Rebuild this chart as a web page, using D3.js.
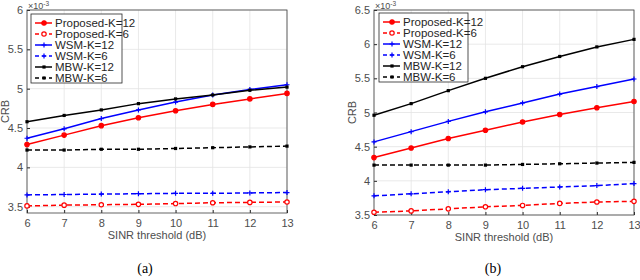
<!DOCTYPE html>
<html>
<head>
<meta charset="utf-8">
<script src="https://cdn.jsdelivr.net/npm/d3@7"></script>
<style>
  body { margin: 0; background: #fff; }
  svg { display: block; font-family: "Liberation Sans", Arial, sans-serif; }
  .cap { font-family: "Liberation Serif", "Times New Roman", serif; font-size: 14px; }
</style>
</head>
<body>
<svg id="chart" width="640" height="280"></svg>
<script>
const SNR = [6, 7, 8, 9, 10, 11, 12, 13]

const SERIES_NAMES = ["Proposed-K=12", "Proposed-K=6", "WSM-K=12", "WSM-K=6", "MBW-K=12", "MBW-K=6"]

// panel (a), CRB values in units of 1e-3
const A_PROP12 = [4.29, 4.41, 4.53, 4.63, 4.72, 4.80, 4.87, 4.94]
const A_PROP6  = [3.51, 3.52, 3.525, 3.53, 3.54, 3.55, 3.555, 3.56]
const A_WSM12  = [4.37, 4.49, 4.62, 4.73, 4.83, 4.92, 4.99, 5.05]
const A_WSM6   = [3.65, 3.655, 3.66, 3.665, 3.67, 3.67, 3.675, 3.68]
const A_MBW12  = [4.58, 4.66, 4.73, 4.81, 4.87, 4.92, 4.98, 5.02]
const A_MBW6   = [4.22, 4.22, 4.23, 4.23, 4.24, 4.25, 4.26, 4.27]

// panel (b)
const B_PROP12 = [4.34, 4.48, 4.62, 4.74, 4.86, 4.97, 5.07, 5.16]
const B_PROP6  = [3.54, 3.56, 3.59, 3.62, 3.64, 3.67, 3.69, 3.70]
const B_WSM12  = [4.57, 4.72, 4.87, 5.01, 5.14, 5.27, 5.38, 5.49]
const B_WSM6   = [3.78, 3.81, 3.84, 3.87, 3.89, 3.91, 3.93, 3.96]
const B_MBW12  = [4.96, 5.13, 5.32, 5.50, 5.67, 5.82, 5.96, 6.07]
const B_MBW6   = [4.23, 4.23, 4.23, 4.23, 4.24, 4.25, 4.26, 4.27]

const A_YTICKS = [3.5, 4, 4.5, 5, 5.5, 6]
const B_YTICKS = [3.5, 4, 4.5, 5, 5.5, 6, 6.5]

const STYLES = [
    {color: "#ff0000", dash: null,  marker: "circle", fill: true},
    {color: "#ff0000", dash: "5,3", marker: "circle", fill: false},
    {color: "#0000ff", dash: null,  marker: "plus"},
    {color: "#0000ff", dash: "5,3", marker: "plus"},
    {color: "#000000", dash: null,  marker: "square"},
    {color: "#000000", dash: "5,3", marker: "square"}
]

const svg = d3.select("#chart")

function drawMarker(g, style, x, y) {
    if (style.marker === "circle") {
        g.append("circle").attr("cx", x).attr("cy", y).attr("r", 2.2)
            .attr("fill", style.fill ? style.color : "#fff")
            .attr("stroke", style.color).attr("stroke-width", 1.2)
    } else if (style.marker === "plus") {
        g.append("path").attr("d", `M${x-2.5},${y}H${x+2.5}M${x},${y-2.5}V${y+2.5}`)
            .attr("stroke", style.color).attr("stroke-width", 1.2)
    } else {
        g.append("rect").attr("x", x-1.6).attr("y", y-1.6).attr("width", 3.2).attr("height", 3.2)
            .attr("fill", style.color)
    }
}

function drawPanel(opts) {
    let {x0, x1, y0, y1, ydomain, yticks, data, legend, caption} = opts
    let x = d3.scaleLinear().domain([6, 13]).range([x0, x1])
    let y = d3.scaleLinear().domain(ydomain).range([y1, y0])

    let g = svg.append("g")

    // grid
    g.append("g").selectAll("line").data(SNR).join("line")
        .attr("x1", d => x(d)).attr("x2", d => x(d)).attr("y1", y0).attr("y2", y1)
        .attr("stroke", "#e3e3e3").attr("stroke-width", 0.8)
    g.append("g").selectAll("line").data(yticks).join("line")
        .attr("x1", x0).attr("x2", x1).attr("y1", d => y(d)).attr("y2", d => y(d))
        .attr("stroke", "#e3e3e3").attr("stroke-width", 0.8)

    // axes
    let xa = g.append("g").attr("transform", `translate(0,${y1})`)
        .call(d3.axisBottom(x).tickValues(SNR).tickSize(-3).tickPadding(6).tickFormat(d3.format("d")))
    let ya = g.append("g").attr("transform", `translate(${x0},0)`)
        .call(d3.axisLeft(y).tickValues(yticks).tickSize(-3).tickPadding(4).tickFormat(d => d))
    ;[xa, ya].forEach(a => {
        a.select(".domain").remove()
        a.selectAll("line").attr("stroke", "#262626")
        a.selectAll("text").attr("fill", "#4d4d4d").style("font-size", "11px").style("font-family", "'Liberation Sans', Arial, sans-serif")
    })

    g.append("rect").attr("x", x0).attr("y", y0).attr("width", x1 - x0).attr("height", y1 - y0)
        .attr("fill", "none").attr("stroke", "#404040").attr("stroke-width", 0.8)

    // series
    let line = d3.line().x((d, i) => x(SNR[i])).y(d => y(d))
    data.forEach((vals, k) => {
        let s = STYLES[k]
        g.append("path").datum(vals).attr("d", line)
            .attr("fill", "none").attr("stroke", s.color).attr("stroke-width", 1.5)
            .attr("stroke-dasharray", s.dash)
        let mg = g.append("g")
        vals.forEach((v, i) => drawMarker(mg, s, x(SNR[i]), y(v)))
    })

    // exponent
    let ex = g.append("text").attr("x", x0 + 1).attr("y", 9)
        .attr("fill", "#4d4d4d").style("font-size", "9px")
    ex.append("tspan").text("\u00d710")
    ex.append("tspan").attr("dy", -3).style("font-size", "6.5px").text("-3")

    // axis labels
    g.append("text").attr("x", (x0 + x1) / 2).attr("y", y1 + 26).attr("text-anchor", "middle")
        .attr("fill", "#4d4d4d").style("font-size", "11px").text("SINR threshold (dB)")
    g.append("text").attr("transform", `translate(${x0 - 18},${(y0 + y1) / 2}) rotate(-90)`)
        .attr("text-anchor", "middle").attr("fill", "#4d4d4d").style("font-size", "11px").text("CRB")

    // legend
    let lg = g.append("g").attr("transform", `translate(${legend[0]},${legend[1]})`)
    lg.append("rect").attr("width", legend[2]).attr("height", 69)
        .attr("fill", "#fff").attr("stroke", "#262626").attr("stroke-width", 0.8)
    SERIES_NAMES.forEach((name, k) => {
        let s = STYLES[k], ly = 9 + k * 11
        lg.append("line").attr("x1", 4).attr("x2", 21).attr("y1", ly).attr("y2", ly)
            .attr("stroke", s.color).attr("stroke-width", 1.5).attr("stroke-dasharray", s.dash ? "4,3" : null)
        drawMarker(lg, s, 13, ly)
        lg.append("text").attr("x", 24).attr("y", ly + 4).attr("fill", "#262626")
            .style("font-size", "11.5px").text(name)
    })

    svg.append("text").attr("class", "cap").attr("x", caption[0]).attr("y", caption[1])
        .attr("text-anchor", "middle").attr("fill", "#000").text(caption[2])
}

drawPanel({x0: 27, x1: 287, y0: 10, y1: 213, ydomain: [3.42, 6], yticks: A_YTICKS,
    data: [A_PROP12, A_PROP6, A_WSM12, A_WSM6, A_MBW12, A_MBW6],
    legend: [31, 14, 91], caption: [145, 273, "(a)"]})

drawPanel({x0: 374, x1: 634, y0: 10, y1: 215, ydomain: [3.5, 6.5], yticks: B_YTICKS,
    data: [B_PROP12, B_PROP6, B_WSM12, B_WSM6, B_MBW12, B_MBW6],
    legend: [379, 13, 89], caption: [493, 273, "(b)"]})
</script>
</body>
</html>
